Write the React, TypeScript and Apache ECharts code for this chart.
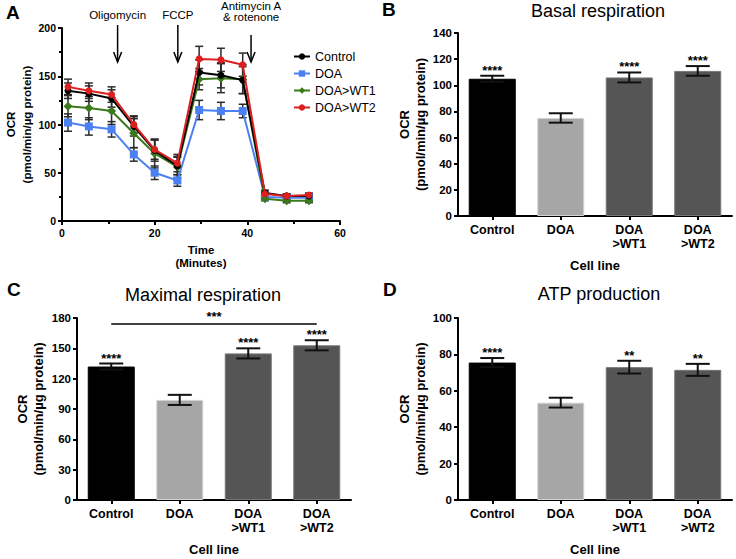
import React, { useEffect, useRef } from "react";
import * as echarts from "echarts";

const FONT = "'Liberation Sans', Arial, Helvetica, sans-serif";

// ---------- Panel A: OCR time course ----------
const timeMinutes = [1.3, 5.8, 10.7, 15.5, 20.0, 24.9, 29.6, 34.3, 39.0, 43.8, 48.5, 53.3];
const ocrControl = [135, 132, 127, 98, 73, 57, 154, 151, 146, 29, 26, 26];
const errControl = [8, 8, 9, 10, 11, 9, 13, 13, 14, 3, 2, 2];
const ocrDOA = [102, 98, 95, 69, 50, 42, 115, 114, 114, 25, 24, 24];
const errDOA = [9, 9, 8, 7, 7, 6, 10, 9, 7, 2, 2, 2];
const ocrWT1 = [119, 117, 114, 91, 70, 56, 147, 148, 147, 23, 21, 21];
const errWT1 = [11, 12, 14, 15, 15, 11, 11, 15, 15, 2, 2, 2];
const ocrWT2 = [139, 135, 131, 100, 74, 60, 168, 167, 162, 28, 26, 27];
const errWT2 = [8, 8, 8, 9, 10, 9, 13, 12, 12, 2, 2, 2];
const seriesNamesA = ["Control", "DOA", "DOA>WT1", "DOA>WT2"];
const injectionTimes = [12, 25, 40.8];

// ---------- Panels B-D: bar charts ----------
const cellLines = ["Control", "DOA", "DOA\n>WT1", "DOA\n>WT2"];
const basalMean = [105, 75, 106, 111];
const basalErr = [2.3, 3.6, 3.8, 3.7];
const basalSig = ["****", "", "****", "****"];
const maximalMean = [132, 99, 145, 153];
const maximalErr = [3, 5, 5, 5];
const maximalSig = ["****", "", "****", "****"];
const maximalBracketValue = 174;
const maximalBracketSig = "***";
const atpMean = [75.5, 53.5, 73, 71.5];
const atpErr = [2.5, 2.7, 3.5, 3.3];
const atpSig = ["****", "", "**", "**"];

const barColors = ["#000000", "#a6a6a6", "#555555", "#555555"];
const barBorders = ["#000000", "#d4d4d4", "#777777", "#777777"];

const gridA = { left: 62, top: 28, width: 278, height: 193 };
const gridB = { left: 458, top: 33, width: 274, height: 183 };
const gridC = { left: 77, top: 318, width: 274, height: 182 };
const gridD = { left: 458, top: 318, width: 274, height: 182 };

const axisLine = { show: true, lineStyle: { color: "#000", width: 2 } };
const axisTick = { show: true, length: 4, lineStyle: { color: "#000", width: 2 } };

function errRender(capHalf: number, color: string, lw: number, sig?: string[]) {
  return (params: any, api: any) => {
    const x = api.value(0);
    const y = api.value(1);
    const e = api.value(2);
    const top = api.coord([x, y + e]);
    const bot = api.coord([x, y - e]);
    const st = { stroke: color, lineWidth: lw };
    const children: any[] = [
      { type: "line", shape: { x1: top[0], y1: top[1], x2: bot[0], y2: bot[1] }, style: st },
      { type: "line", shape: { x1: top[0] - capHalf, y1: top[1], x2: top[0] + capHalf, y2: top[1] }, style: st },
      { type: "line", shape: { x1: bot[0] - capHalf, y1: bot[1], x2: bot[0] + capHalf, y2: bot[1] }, style: st },
    ];
    const s = sig ? sig[params.dataIndex] : "";
    if (s) {
      children.push({
        type: "text",
        x: top[0],
        y: top[1] + 1,
        style: {
          text: s,
          font: `bold 13px ${FONT}`,
          fill: "#000",
          align: "center",
          verticalAlign: "bottom",
          textAlign: "center",
          textVerticalAlign: "bottom",
        },
      });
    }
    return { type: "group", children };
  };
}

function lineSeries(name: string, vals: number[], color: string, symbol: string, size: number, z: number) {
  return {
    type: "line",
    name,
    xAxisIndex: 0,
    yAxisIndex: 0,
    data: timeMinutes.map((t, i) => [t, vals[i]]),
    symbol,
    symbolSize: size,
    lineStyle: { color, width: 2 },
    itemStyle: { color, borderColor: color, borderWidth: 0 },
    z,
  };
}

function errSeriesA(vals: number[], errs: number[], z: number) {
  return {
    type: "custom",
    xAxisIndex: 0,
    yAxisIndex: 0,
    data: timeMinutes.map((t, i) => [t, vals[i], errs[i]]),
    encode: { x: 0, y: 1 },
    renderItem: errRender(4, "#2b2b2b", 1.5),
    z,
    silent: true,
  };
}

function barSeries(idx: number, means: number[], extra: any = {}) {
  return {
    type: "bar",
    xAxisIndex: idx,
    yAxisIndex: idx,
    barWidth: 47,
    data: means.map((m, i) => ({
      value: m,
      itemStyle: { color: barColors[i], borderColor: barBorders[i], borderWidth: 1 },
    })),
    z: 2,
    ...extra,
  };
}

function barErrSeries(idx: number, means: number[], errs: number[], sig: string[]) {
  return {
    type: "custom",
    xAxisIndex: idx,
    yAxisIndex: idx,
    data: means.map((m, i) => [i, m, errs[i]]),
    encode: { x: 0, y: 1 },
    renderItem: errRender(12, "#111", 2, sig),
    z: 5,
    silent: true,
  };
}

function catXAxis(gridIndex: number) {
  return {
    type: "category",
    gridIndex,
    data: cellLines,
    axisLine,
    axisTick: { ...axisTick, alignWithLabel: true },
    axisLabel: {
      interval: 0,
      margin: 7,
      color: "#000",
      fontFamily: FONT,
      fontWeight: "bold",
      fontSize: 12.5,
      lineHeight: 14,
    },
    name: "Cell line",
    nameLocation: "middle",
    nameGap: 43,
    nameTextStyle: { color: "#000", fontFamily: FONT, fontWeight: "bold", fontSize: 13 },
    splitLine: { show: false },
  };
}

function valYAxis(gridIndex: number, max: number, interval: number, nameGap: number) {
  return {
    type: "value",
    gridIndex,
    min: 0,
    max,
    interval,
    axisLine,
    axisTick,
    axisLabel: { margin: 6, color: "#000", fontFamily: FONT, fontWeight: "bold", fontSize: 11.5 },
    splitLine: { show: false },
    name: "OCR\n(pmol/min/µg protein)",
    nameLocation: "middle",
    nameRotate: 90,
    nameGap,
    nameTextStyle: { color: "#000", fontFamily: FONT, fontWeight: "bold", fontSize: 13, lineHeight: 16 },
  };
}

function txt(text: string, x: number, y: number, size: number, weight = "normal", align = "center") {
  return {
    type: "text",
    x,
    y,
    style: {
      text,
      font: `${weight} ${size}px ${FONT}`,
      fill: "#000",
      align,
      verticalAlign: "middle",
      textAlign: align,
      textVerticalAlign: "middle",
    },
    silent: true,
  };
}

function arrow(t: number, yTop: number) {
  const x = gridA.left + (t / 60) * gridA.width;
  const yTip = 62;
  return [
    { type: "line", shape: { x1: x, y1: yTop, x2: x, y2: yTip }, style: { stroke: "#000", lineWidth: 1.5 }, silent: true },
    {
      type: "polyline",
      shape: { points: [[x - 4, yTip - 10], [x, yTip], [x + 4, yTip - 10]] },
      style: { stroke: "#000", lineWidth: 1.5, fill: "none" },
      silent: true,
    },
  ];
}

function buildOption(): any {
  const arrowX = injectionTimes.map((t) => gridA.left + (t / 60) * gridA.width);
  return {
    animation: false,
    backgroundColor: "#fff",
    textStyle: { fontFamily: FONT },
    grid: [gridA, gridB, gridC, gridD],
    legend: {
      data: seriesNamesA,
      orient: "vertical",
      left: 288,
      top: 45,
      itemWidth: 16,
      itemHeight: 8,
      itemGap: 4,
      textStyle: { color: "#000", fontFamily: FONT, fontSize: 12.5 },
      selectedMode: false,
    },
    xAxis: [
      {
        type: "value",
        gridIndex: 0,
        min: 0,
        max: 60,
        interval: 20,
        axisLine,
        axisTick,
        minorTick: { show: true, splitNumber: 2, length: 3, lineStyle: { color: "#000", width: 2 } },
        axisLabel: { margin: 6, color: "#000", fontFamily: FONT, fontWeight: "bold", fontSize: 10.5 },
        splitLine: { show: false },
        minorSplitLine: { show: false },
        name: "Time\n(Minutes)",
        nameLocation: "middle",
        nameGap: 22,
        nameTextStyle: { color: "#000", fontFamily: FONT, fontWeight: "bold", fontSize: 11.5, lineHeight: 13 },
      },
      catXAxis(1),
      catXAxis(2),
      catXAxis(3),
    ],
    yAxis: [
      {
        type: "value",
        gridIndex: 0,
        min: 0,
        max: 200,
        interval: 50,
        axisLine,
        axisTick,
        minorTick: { show: true, splitNumber: 2, length: 3, lineStyle: { color: "#000", width: 2 } },
        axisLabel: { margin: 6, color: "#000", fontFamily: FONT, fontWeight: "bold", fontSize: 10.5 },
        splitLine: { show: false },
        minorSplitLine: { show: false },
        name: "OCR\n(pmol/min/µg protein)",
        nameLocation: "middle",
        nameRotate: 90,
        nameGap: 23,
        nameTextStyle: { color: "#000", fontFamily: FONT, fontWeight: "bold", fontSize: 11.5, lineHeight: 16 },
      },
      valYAxis(1, 140, 20, 30),
      valYAxis(2, 180, 30, 31),
      valYAxis(3, 100, 20, 30),
    ],
    series: [
      errSeriesA(ocrDOA, errDOA, 3),
      errSeriesA(ocrWT1, errWT1, 3),
      errSeriesA(ocrControl, errControl, 3),
      errSeriesA(ocrWT2, errWT2, 3),
      lineSeries("DOA", ocrDOA, "#4a80f2", "rect", 8, 4),
      lineSeries("DOA>WT1", ocrWT1, "#3b7a1c", "diamond", 9, 5),
      lineSeries("Control", ocrControl, "#000000", "circle", 7, 6),
      lineSeries("DOA>WT2", ocrWT2, "#dc1f1f", "circle", 7, 7),

      barSeries(1, basalMean),
      barErrSeries(1, basalMean, basalErr, basalSig),

      barSeries(2, maximalMean, {
        markLine: {
          silent: true,
          symbol: ["none", "none"],
          lineStyle: { color: "#000", width: 1.5, type: "solid" },
          label: {
            show: true,
            position: "insideMiddleTop",
            formatter: maximalBracketSig,
            color: "#000",
            fontFamily: FONT,
            fontWeight: "bold",
            fontSize: 13,
            distance: 1,
          },
          data: [[{ coord: [cellLines[0], maximalBracketValue] }, { coord: [cellLines[3], maximalBracketValue] }]],
        },
      }),
      barErrSeries(2, maximalMean, maximalErr, maximalSig),

      barSeries(3, atpMean),
      barErrSeries(3, atpMean, atpErr, atpSig),
    ],
    graphic: [
      txt("A", 6, 12, 19, "bold", "left"),
      txt("B", 382, 9, 19, "bold", "left"),
      txt("C", 7, 289, 19, "bold", "left"),
      txt("D", 383, 289, 19, "bold", "left"),
      txt("Basal respiration", 598, 11, 18),
      txt("Maximal respiration", 203, 295, 18),
      txt("ATP production", 599, 294, 18),
      txt("Oligomycin", arrowX[0], 15, 11.5),
      txt("FCCP", arrowX[1], 15, 11.5),
      txt("Antimycin A", arrowX[2], 6, 11.5),
      txt("& rotenone", arrowX[2], 17, 11.5),
      ...arrow(injectionTimes[0], 25),
      ...arrow(injectionTimes[1], 25),
      ...arrow(injectionTimes[2], 35),
    ],
  };
}

export default function App() {
  const ref = useRef<HTMLDivElement>(null);
  useEffect(() => {
    if (!ref.current) return;
    const chart = echarts.init(ref.current, null, { renderer: "svg" });
    chart.setOption(buildOption());
    return () => chart.dispose();
  }, []);
  return (
    <div
      ref={ref}
      style={{ position: "absolute", left: 0, top: 0, width: 736, height: 559, background: "#fff" }}
    />
  );
}
